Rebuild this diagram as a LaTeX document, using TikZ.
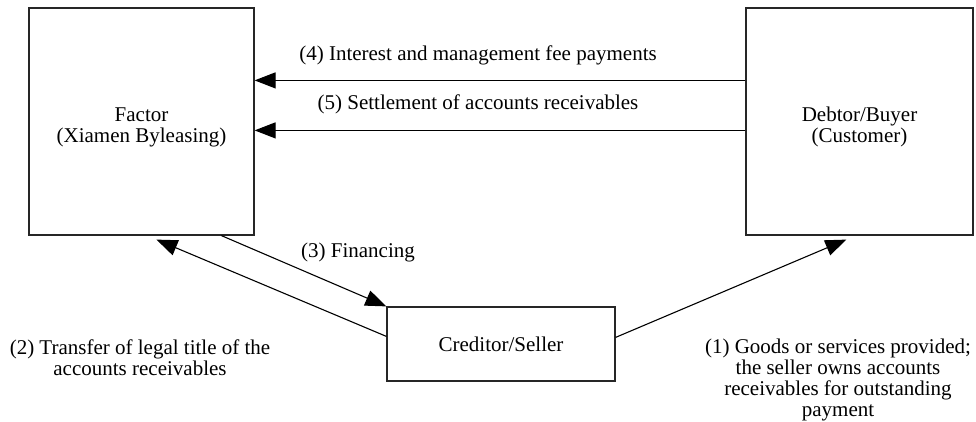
\documentclass[tikz,border=0pt]{standalone}
\usepackage{fontspec}
\setmainfont{Liberation Serif}
\usetikzlibrary{arrows.meta,calc}
\begin{document}
\begin{tikzpicture}[x=1pt,y=-1pt,
  box/.style={draw=black!85,line width=1.2pt,rectangle,inner sep=0pt,align=center,font=\fontsize{21}{21}\selectfont},
  lbl/.style={inner sep=0pt,align=center,font=\fontsize{21}{21}\selectfont},
  conn/.style={draw=black,line width=1.1pt,-{Triangle[length=21pt,width=16pt]}}]
\useasboundingbox (0,0) rectangle (976,422);
\node[box,minimum width=225pt,minimum height=227pt] (factor) at (141.5,121.5) {\raisebox{-11pt}[0pt][0pt]{\begin{tabular}{@{}c@{}}Factor\\(Xiamen Byleasing)\end{tabular}}};
\node[box,minimum width=227pt,minimum height=227pt] (debtor) at (859.5,121.5) {\raisebox{-11pt}[0pt][0pt]{\begin{tabular}{@{}c@{}}Debtor/Buyer\\(Customer)\end{tabular}}};
\node[box,minimum width=228pt,minimum height=74pt] (creditor) at (501,344) {Creditor/Seller};
% (4) and (5)
\coordinate (d4) at ($(debtor.north west)+(0,73)$);
\coordinate (f4) at ($(factor.north east)+(0,73)$);
\coordinate (d5) at ($(debtor.north west)+(0,123)$);
\coordinate (f5) at ($(factor.north east)+(0,123)$);
\draw[conn] (d4) -- (f4);
\draw[conn] (d5) -- (f5);
% (3)
\coordinate (f3) at ($(factor.south west)+(193,0)$);
\draw[conn] (f3) -- (creditor.north west);
% (2)
\coordinate (c2) at ($(creditor.north west)+(0,30)$);
\coordinate (f2) at ($(factor.south west)+(128,4)$);
\draw[conn] (c2) -- (f2);
% (1)
\coordinate (c1) at ($(creditor.north east)+(0,31)$);
\coordinate (d1) at ($(debtor.south west)+(101,4)$);
\draw[conn] (c1) -- (d1);
% labels
\node[lbl] (l4) at (478,55) {(4) Interest and management fee payments};
\node[lbl] (l5) at (478,104) {(5) Settlement of accounts receivables};
\node[lbl] (l3) at (358,252) {(3) Financing};
\node[lbl] (l2) at (140,358) {(2) Transfer of legal title of the\\accounts receivables};
\node[lbl] (l1) at (838,380) {(1) Goods or services provided;\\the seller owns accounts\\receivables for outstanding\\payment};
\end{tikzpicture}
\end{document}
